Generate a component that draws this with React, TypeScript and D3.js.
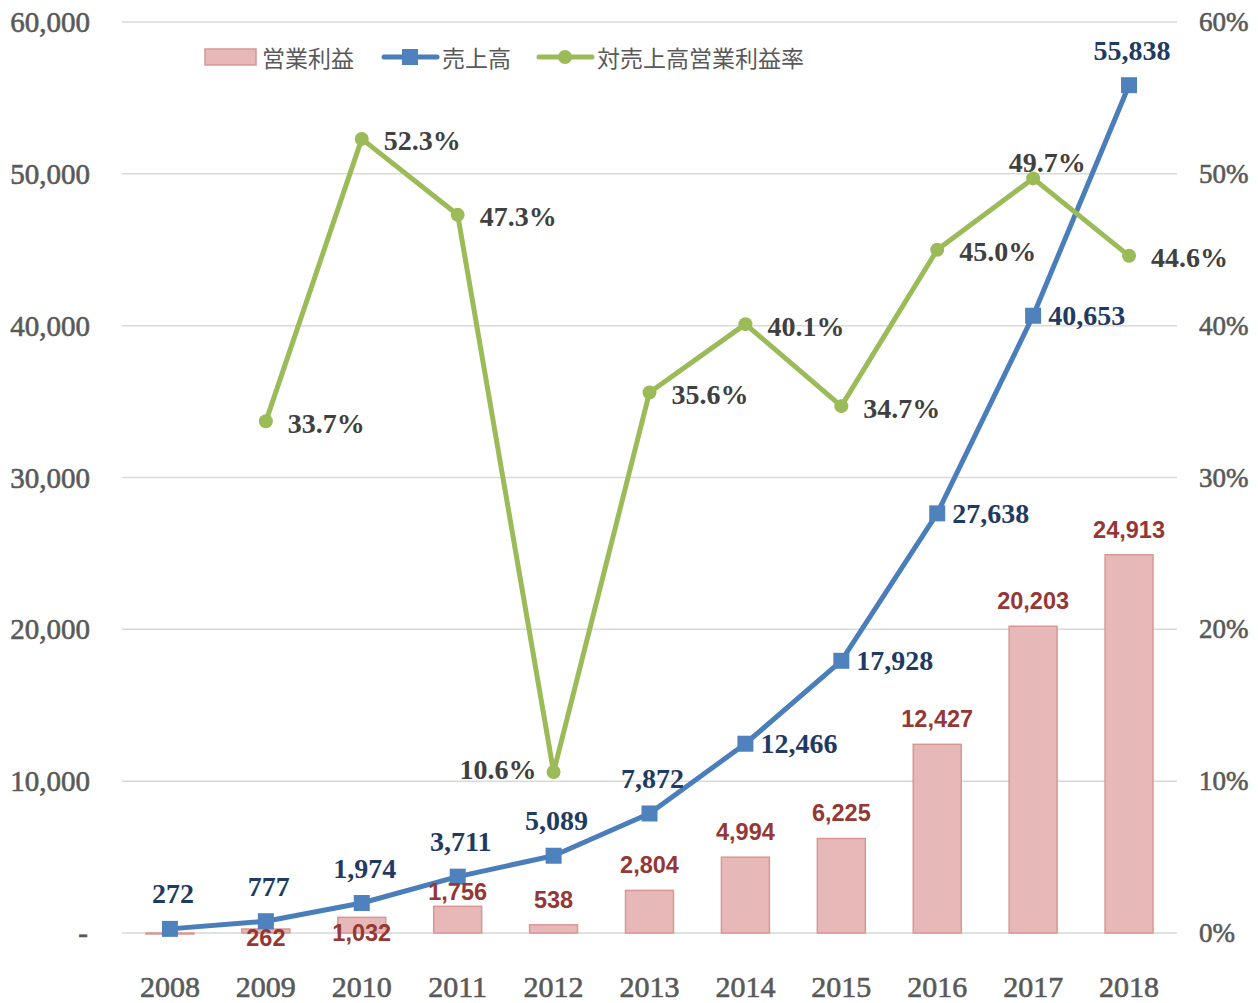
import React from "react";
import * as d3 from "d3";

const years = ["2008", "2009", "2010", "2011", "2012", "2013", "2014", "2015", "2016", "2017", "2018"];
const operatingProfit = [-60, 262, 1032, 1756, 538, 2804, 4994, 6225, 12427, 20203, 24913];
const sales = [272, 777, 1974, 3711, 5089, 7872, 12466, 17928, 27638, 40653, 55838];
const margin: (number | null)[] = [null, 0.337, 0.523, 0.473, 0.106, 0.356, 0.401, 0.347, 0.45, 0.497, 0.446];
const leftTicks = [0, 10000, 20000, 30000, 40000, 50000, 60000];
const rightTicks = [0, 0.1, 0.2, 0.3, 0.4, 0.5, 0.6];

// label placement (style, not data)
const salesLabelPos = ["above", "above", "above", "above", "above", "above", "right", "right", "right", "right", "above"];
const marginLabelPos = ["none", "right", "right", "right", "left", "right", "right", "right", "right", "above", "right"];
const profitLabelDy: (number | null)[] = [null, 9, 16, -14, -25, -25, -25, -25, -25, -25, -25];

const W = 1258;
const H = 1003;
const L = 122;
const R = 1177;
const TOP = 22;
const BOT = 933;

const serif = "Liberation Serif";
const sans = "Liberation Sans";
const cjk = "Noto Sans CJK JP";

function T(props: any) {
  const { family, weight, children, ...rest } = props;
  return (
    <text dominantBaseline="central" style={{ fontFamily: family, fontWeight: weight || "normal" }} {...rest}>
      {children}
    </text>
  );
}

export default function App() {
  const x = d3.scaleBand<string>().domain(years).range([L, R]).paddingInner(0.5).paddingOuter(0.25);
  const cx = (y: string) => (x(y) as number) + x.bandwidth() / 2;
  const yL = d3.scaleLinear().domain([0, 60000]).range([BOT, TOP]);
  const yR = d3.scaleLinear().domain([0, 0.6]).range([BOT, TOP]);
  const fmt = d3.format(",");
  const pct = d3.format(".1%");

  const salesLine = d3
    .line<number>()
    .x((_, i) => cx(years[i]))
    .y((d) => yL(d))(sales) as string;

  const marginPts = margin
    .map((m, i) => (m == null ? null : { x: cx(years[i]), y: yR(m), m, i }))
    .filter((d) => d != null) as { x: number; y: number; m: number; i: number }[];
  const marginLine = d3
    .line<{ x: number; y: number }>()
    .x((d) => d.x)
    .y((d) => d.y)(marginPts) as string;

  const blue = "#4A7EBB";
  const green = "#9BBB59";
  const navy = "#1F3B63";
  const darkText = "#404040";
  const tickColor = "#595959";

  return (
    <div style={{ position: "absolute", left: 0, top: 0 }}>
      <svg width={W} height={H} style={{ display: "block", background: "#fff" }}>
        {leftTicks.map((t) => (
          <line key={t} x1={L} x2={R} y1={yL(t)} y2={yL(t)} stroke="#D9D9D9" strokeWidth={1.5} />
        ))}
        {leftTicks.map((t) => (
          <T key={"l" + t} family={serif} x={t === 0 ? 88 : 90} y={yL(t)} textAnchor="end" fontSize={29} fill={tickColor} stroke={tickColor} strokeWidth={0.6}>
            {t === 0 ? "-" : fmt(t)}
          </T>
        ))}
        {rightTicks.map((t) => (
          <T key={"r" + t} family={serif} x={1199} y={yR(t)} textAnchor="start" fontSize={27} fill={tickColor} stroke={tickColor} strokeWidth={0.6}>
            {d3.format(".0%")(t)}
          </T>
        ))}
        {years.map((y) => (
          <T key={"x" + y} family={serif} x={cx(y)} y={986} textAnchor="middle" fontSize={30} fill={tickColor} stroke={tickColor} strokeWidth={0.6}>
            {y}
          </T>
        ))}
        {operatingProfit.map((v, i) => {
          const y0 = yL(0);
          const y1 = yL(v);
          return (
            <rect
              key={"b" + i}
              x={x(years[i])}
              y={Math.min(y0, y1)}
              width={x.bandwidth()}
              height={Math.max(1, Math.abs(y1 - y0))}
              fill="#E6B9B8"
              stroke="#D99694"
              strokeWidth={1.5}
            />
          );
        })}
        <path d={salesLine} fill="none" stroke={blue} strokeWidth={5} strokeLinejoin="round" />
        {sales.map((v, i) => (
          <rect key={"s" + i} x={cx(years[i]) - 8} y={yL(v) - 8} width={16} height={16} fill="#4F81BD" />
        ))}
        <path d={marginLine} fill="none" stroke={green} strokeWidth={5} strokeLinejoin="round" />
        {marginPts.map((p) => (
          <circle key={"m" + p.i} cx={p.x} cy={p.y} r={7} fill={green} />
        ))}
        {operatingProfit.map((v, i) => {
          const dy = profitLabelDy[i];
          if (dy == null) return null;
          return (
            <T key={"bl" + i} family={sans} weight="bold" x={cx(years[i])} y={yL(v) + dy} textAnchor="middle" fontSize={23.5} fill="#953735">
              {fmt(v)}
            </T>
          );
        })}
        {sales.map((v, i) => {
          const pos = salesLabelPos[i];
          const px = cx(years[i]);
          const py = yL(v);
          const isRight = pos === "right";
          return (
            <T
              key={"sl" + i}
              family={serif}
              weight="bold"
              x={isRight ? px + 15 : px + 3}
              y={isRight ? py : py - 35}
              textAnchor={isRight ? "start" : "middle"}
              fontSize={28}
              fill={navy}
            >
              {fmt(v)}
            </T>
          );
        })}
        {marginPts.map((p) => {
          const pos = marginLabelPos[p.i];
          let tx = p.x + 22;
          let ty = p.y + 2;
          let anchor = "start";
          if (pos === "left") {
            tx = p.x - 17;
            ty = p.y - 3;
            anchor = "end";
          } else if (pos === "above") {
            tx = p.x + 14;
            ty = p.y - 16;
            anchor = "middle";
          }
          return (
            <T key={"ml" + p.i} family={serif} weight="bold" x={tx} y={ty} textAnchor={anchor} fontSize={28} fill={darkText}>
              {pct(p.m)}
            </T>
          );
        })}
        <g>
          <rect x={205} y={49} width={51} height={16} fill="#E6B9B8" stroke="#D99694" strokeWidth={1.5} />
          <T family={cjk} x={262} y={57} fontSize={23} fill={tickColor}>
            営業利益
          </T>
          <line x1={384} x2={437} y1={57} y2={57} stroke={blue} strokeWidth={5} strokeLinecap="round" />
          <rect x={402} y={49} width={16} height={16} fill="#4F81BD" />
          <T family={cjk} x={442} y={57} fontSize={23} fill={tickColor}>
            売上高
          </T>
          <line x1={539} x2={592} y1={57} y2={57} stroke={green} strokeWidth={5} strokeLinecap="round" />
          <circle cx={565} cy={57} r={7} fill={green} />
          <T family={cjk} x={597} y={57} fontSize={23} fill={tickColor}>
            対売上高営業利益率
          </T>
        </g>
      </svg>
    </div>
  );
}
